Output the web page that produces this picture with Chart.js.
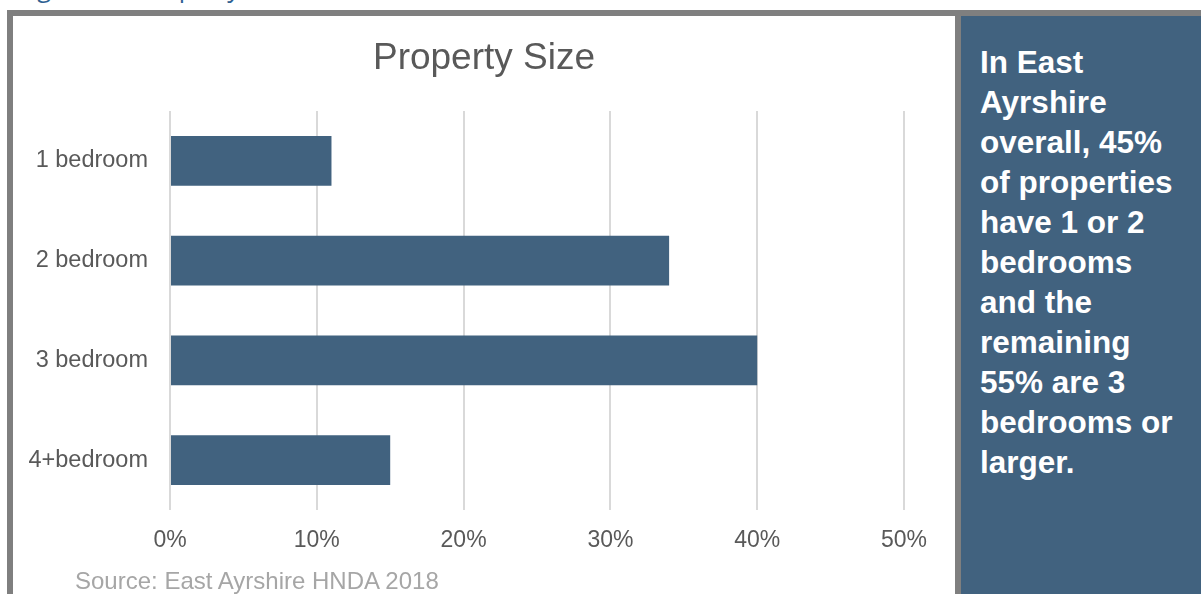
<!DOCTYPE html>
<html>
<head>
<meta charset="utf-8">
<title>Property Size</title>
<script src="https://cdn.jsdelivr.net/npm/chart.js@4"></script>
<style>
  html, body { margin:0; padding:0; background:#fff; width:1201px; height:594px; overflow:hidden; }
  .caption { position:absolute; left:18px; top:-25px; font:25px/25px "Open Sans", sans-serif; color:#2f6192; white-space:nowrap; }
  .frame-top { position:absolute; left:7px; top:10px; width:1194px; height:6px; background:#7f7f7f; }
  .frame-left { position:absolute; left:7px; top:10px; width:6px; height:584px; background:#7f7f7f; }
  .divider { position:absolute; left:955px; top:10px; width:6px; height:584px; background:#7f7f7f; }
  .chart-box { position:absolute; left:13px; top:16px; width:942px; height:578px; }
  .chart-title { position:absolute; left:13px; top:35px; width:942px; text-align:center;
                 font:37px/44px "Liberation Sans", Arial, sans-serif; color:#595959; }
  .source { position:absolute; left:75px; top:567px; font:24px "Liberation Sans", Arial, sans-serif; color:#a6a6a6; white-space:nowrap; }
  .note { position:absolute; left:961px; top:16px; width:240px; height:578px; background:#41627f;
          box-sizing:border-box; padding:26px 0 0 19px;
          font:bold 31.5px/40px "Liberation Sans", Arial, sans-serif; color:#fff; white-space:nowrap; }
</style>
</head>
<body>
<div class="caption">Figure 10: Property Size</div>
<div class="frame-top"></div>
<div class="frame-left"></div>
<div class="divider"></div>
<div class="chart-box"><canvas id="sizes"></canvas></div>
<div class="chart-title">Property Size</div>
<div class="source">Source: East Ayrshire HNDA 2018</div>
<div class="note">In East<br>Ayrshire<br>overall, 45%<br>of properties<br>have 1 or 2<br>bedrooms<br>and the<br>remaining<br>55% are 3<br>bedrooms or<br>larger.</div>

<script>
// share of properties by number of bedrooms (%)
const CATEGORIES = ["1 bedroom", "2 bedroom", "3 bedroom", "4+bedroom"];
const SHARE = [11, 34, 40, 15];
const X_TICKS = [0, 10, 20, 30, 40, 50];

const BAR = "#41627f";
const TEXT = "#595959";
const GRID = "#d9d9d9";

new Chart(document.getElementById("sizes"), {
  type: "bar",
  data: {
    labels: CATEGORIES,
    datasets: [{ data: SHARE, backgroundColor: BAR, barPercentage: 0.5, categoryPercentage: 1 }]
  },
  options: {
    indexAxis: "y",
    responsive: true,
    maintainAspectRatio: false,
    animation: false,
    // title sits above the canvas as HTML, so leave room for it here
    layout: { padding: { left: 0, right: 51, top: 95, bottom: 0 } },
    plugins: {
      legend: { display: false },
      tooltip: { enabled: false }
    },
    scales: {
      x: {
        min: X_TICKS[0], max: X_TICKS[X_TICKS.length - 1],
        afterBuildTicks: s => { s.ticks = X_TICKS.map(v => ({ value: v })); },
        ticks: { color: TEXT, padding: 17, font: { family: "'Liberation Sans', Arial", size: 23 }, callback: v => v + "%" },
        grid: { color: GRID, lineWidth: 2, drawTicks: false },
        border: { display: false },
        afterFit: s => { s.height = 84; }
      },
      y: {
        ticks: { color: TEXT, padding: 22, font: { family: "'Liberation Sans', Arial", size: 23.5 } },
        grid: { display: false, drawTicks: false },
        border: { display: false },
        afterFit: s => { s.width = 157; }
      }
    }
  }
});
</script>
</body>
</html>
